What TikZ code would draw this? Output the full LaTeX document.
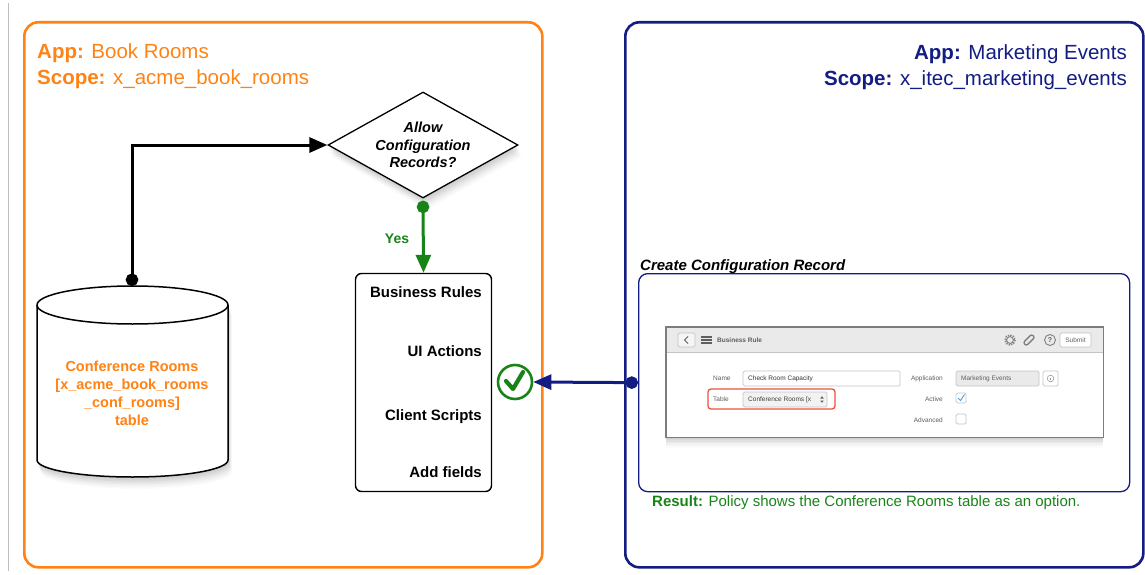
\documentclass[tikz,border=0pt]{standalone}
\usepackage{fontspec}
\setmainfont{Liberation Sans}
\usetikzlibrary{shapes.geometric,arrows.meta,shadows,calc}

\definecolor{bookorange}{RGB}{255,130,20}
\definecolor{mktnavy}{RGB}{18,28,130}
\definecolor{yesgreen}{RGB}{24,132,24}
\definecolor{uigrey}{RGB}{234,234,234}
\definecolor{uiline}{RGB}{196,196,196}
\definecolor{uiframe}{RGB}{125,125,125}
\definecolor{uitext}{RGB}{95,95,95}
\definecolor{uired}{RGB}{232,84,60}
\definecolor{uiblue}{RGB}{90,150,230}

\tikzset{
  appframe/.style={line width=2.6pt, rounded corners=14pt, inner sep=0pt, anchor=north west},
  applabel/.style={inner sep=0pt, font=\fontsize{20.5}{24}\selectfont},
  % soft shadow built from stacked translucent copies
  softshadow/.style={drop shadow={opacity=0.08, shadow xshift=0.5pt, shadow yshift=-1.5pt},
                     drop shadow={opacity=0.08, shadow xshift=1pt, shadow yshift=-3pt},
                     drop shadow={opacity=0.08, shadow xshift=1.5pt, shadow yshift=-4.5pt},
                     drop shadow={opacity=0.07, shadow xshift=2pt, shadow yshift=-6pt},
                     drop shadow={opacity=0.06, shadow xshift=2.5pt, shadow yshift=-7.5pt},
                     drop shadow={opacity=0.05, shadow xshift=3pt, shadow yshift=-9pt},
                     drop shadow={opacity=0.04, shadow xshift=3.5pt, shadow yshift=-10.5pt},
                     drop shadow={opacity=0.03, shadow xshift=4pt, shadow yshift=-12pt}},
  shotshadow/.style={drop shadow={opacity=0.09, shadow xshift=0pt, shadow yshift=-1.5pt},
                     drop shadow={opacity=0.09, shadow xshift=0pt, shadow yshift=-3pt},
                     drop shadow={opacity=0.08, shadow xshift=0pt, shadow yshift=-4.5pt},
                     drop shadow={opacity=0.07, shadow xshift=0pt, shadow yshift=-6pt},
                     drop shadow={opacity=0.05, shadow xshift=0pt, shadow yshift=-7.5pt},
                     drop shadow={opacity=0.04, shadow xshift=0pt, shadow yshift=-9pt},
                     drop shadow={opacity=0.03, shadow xshift=0pt, shadow yshift=-10.5pt}},
  decision/.style={diamond, draw, fill=white, line width=1.3pt, aspect=1.8, inner sep=0pt,
                   minimum width=190pt, minimum height=106pt, align=center,
                   font=\fontsize{14.5}{17.5}\selectfont\bfseries\itshape, softshadow},
  artefacts/.style={draw, fill=white, line width=1.4pt, rounded corners=6pt,
                    minimum width=136pt, minimum height=218pt, inner sep=0pt},
  artefact/.style={inner sep=0pt, anchor=base east, font=\fontsize{15}{18}\selectfont\bfseries},
  flow/.style={line width=3pt},
  flowarrow/.style={flow, {Circle[length=12.5pt,width=12.5pt]}-{Triangle[length=18pt,width=15pt]}},
  uitxt/.style={inner sep=0pt, font=\fontsize{6.5}{7}\selectfont, text=uitext},
  uibox/.style={draw=uiline, line width=0.7pt, rounded corners=1.5pt}
}

\begin{document}
\begin{tikzpicture}[x=1pt,y=-1pt]
\useasboundingbox (0,0) rectangle (1145,575);

% page edge rule
\draw[black!25, line width=0.6pt] (8,3) -- (8,571);

% ---------- application frames ----------
\node[appframe, draw=bookorange, minimum width=518pt, minimum height=545pt] (bookapp) at (23,21) {};
\node[appframe, draw=mktnavy, minimum width=518pt, minimum height=545pt] (mktapp) at (624,21) {};

\node[applabel, text=bookorange, anchor=base west] (bookname) at (37,59) {\textbf{App:} Book Rooms};
\node[applabel, text=bookorange, anchor=base west] (bookscope) at (37,85) {\textbf{Scope:} x\_acme\_book\_rooms};
\node[applabel, text=mktnavy, anchor=base east] (mktname) at (1127,60) {\textbf{App:} Marketing Events};
\node[applabel, text=mktnavy, anchor=base east] (mktscope) at (1127,86) {\textbf{Scope:} x\_itec\_marketing\_events};

% ---------- table cylinder ----------
\path[softshadow, fill=white, draw=black, line width=1.5pt]
  (37,305) -- (37,460) arc[start angle=180, end angle=0, x radius=95.5, y radius=17]
  -- (228,305) arc[start angle=0, end angle=-180, x radius=95.5, y radius=19] -- cycle;
\draw[line width=1.5pt] (37,305) arc[start angle=180, end angle=0, x radius=95.5, y radius=19];
\coordinate (dbtop) at (132,286);
\node[inner sep=0pt, align=center, text=bookorange, font=\fontsize{14.5}{18}\selectfont\bfseries]
  (db) at (132,393) {Conference Rooms\\{}[x\_acme\_book\_rooms\\\_conf\_rooms]\\table};

% ---------- decision ----------
\node[decision] (ask) at (423,145) {Allow\\Configuration\\Records?};

% ---------- artefacts list ----------
\node[artefacts] (rules) at (423.5,382.5) {};
\node[artefact] (br) at (482,297) {Business Rules};
\node[artefact] (ui) at (482,356) {UI Actions};
\node[artefact] (cs) at (482,420) {Client Scripts};
\node[artefact] (af) at (482,477) {Add fields};

% ---------- granted mark ----------
\node[circle, draw=yesgreen, line width=2.6pt, minimum size=34pt, inner sep=0pt] (ok) at (515,382) {};
\draw[yesgreen, line width=4.2pt, line cap=round, line join=round]
  ($(ok.center)+(-9,-1)$) -- ($(ok.center)+(-2,7)$) -- ($(ok.center)+(8,-10)$);

% ---------- configuration record panel ----------
\node[draw=mktnavy, line width=1.3pt, rounded corners=9pt, minimum width=491pt, minimum height=218pt,
      inner sep=0pt, anchor=north west] (cfg) at (638,273) {};
\node[inner sep=0pt, anchor=base west, font=\fontsize{15}{18}\selectfont\bfseries\itshape]
  (cfgtitle) at (640,270) {Create Configuration Record};
\node[inner sep=0pt, anchor=base west, text=yesgreen, font=\fontsize{15}{18}\selectfont]
  (result) at (652,506) {\textbf{Result:} Policy shows the Conference Rooms table as an option.};

% form screenshot
\node[fill=white, minimum width=437pt, minimum height=110pt, inner sep=0pt, anchor=north west, shotshadow]
  (shot) at (666,327) {};
\fill[uigrey] (shot.north west) rectangle (1103,352);
\draw[uiline, line width=0.6pt] (666,352) -- (1103,352);
\draw[uiframe, line width=1.2pt] (shot.north west) rectangle (shot.south east);

% header bar
\draw[uibox, fill=white!96!black] (678,333) rectangle (695,347);
\draw[uitext, line width=0.8pt] (688,336.5) -- (684.5,340) -- (688,343.5);
\foreach \yy in {337,340,343} \draw[uitext, line width=1.2pt] (701,\yy) -- (712,\yy);
\node[uitxt, anchor=west, font=\fontsize{6.5}{7}\selectfont\bfseries] (hdr) at (717,340) {Business Rule};
\draw[uitext!80, line width=1.6pt, dash pattern=on 1.3pt off 1.3pt] (1010,340) circle[radius=5];
\draw[uitext!80, line width=0.9pt] (1010,340) circle[radius=3.4];
\draw[uitext!80, line width=1.3pt, rounded corners=2pt, rotate around={-45:(1029,340)}] (1026.8,334) rectangle (1031.2,346);
\draw[uitext!80, line width=0.9pt] (1050,340) circle[radius=5.5];
\node[uitxt, font=\fontsize{7}{7}\selectfont\bfseries] (help) at (1050,340.5) {?};
\draw[uibox, fill=white] (1060,333) rectangle (1091,347);
\node[uitxt] (submit) at (1075.5,340) {Submit};

% form fields
\node[uitxt, anchor=west] (namel) at (713,378.5) {Name};
\draw[uibox, fill=white] (743,371) rectangle (900,386);
\node[uitxt, anchor=west, text=black!80] (namev) at (748,378.5) {Check Room Capacity};
\node[uitxt, anchor=east] (appl) at (943,378.5) {Application};
\draw[uibox, fill=uigrey] (956,371) rectangle (1039,386);
\node[uitxt, anchor=west] (appv) at (961,378.5) {Marketing Events};
\draw[uibox, fill=white] (1043,371) rectangle (1058,386);
\draw[uitext!70, line width=0.5pt] (1050.5,378.5) circle[radius=3.3];
\draw[uitext!70, line width=0.6pt] (1050.5,377.6) -- (1050.5,380.4);

\node[uitxt, anchor=west] (tablel) at (713,399.5) {Table};
\draw[uibox, fill=white!95!black] (743,392) rectangle (827,407);
\node[uitxt, anchor=west, text=black!75] (tablev) at (748,399.5) {Conference Rooms [x};
\fill[uitext] (820.3,398.5) -- (823.7,398.5) -- (822,396.2) -- cycle;
\fill[uitext] (820.3,400.5) -- (823.7,400.5) -- (822,402.8) -- cycle;
\draw[uired, line width=1.3pt, rounded corners=3pt] (708,389) rectangle (835,409);

\node[uitxt, anchor=east] (activel) at (943,399.5) {Active};
\draw[uibox, fill=white] (956,393) rectangle (966,403);
\draw[uiblue, line width=0.9pt] (958,398) -- (960.5,400.5) -- (964.5,394.5);
\node[uitxt, anchor=east] (advl) at (943,420.5) {Advanced};
\draw[uibox, fill=white] (956,414) rectangle (966,424);

% ---------- connectors ----------
\draw[flowarrow] (dbtop) |- (ask.west);
\draw[flowarrow, yesgreen] ([yshift=-2pt]ask.south) -- (rules.north);
\node[inner sep=0pt, anchor=base, text=yesgreen, font=\fontsize{14}{16}\selectfont\bfseries] (yes) at (397,243) {Yes};
\draw[flowarrow, mktnavy] (cfg.west) -- (ok.east);

\end{tikzpicture}
\end{document}
